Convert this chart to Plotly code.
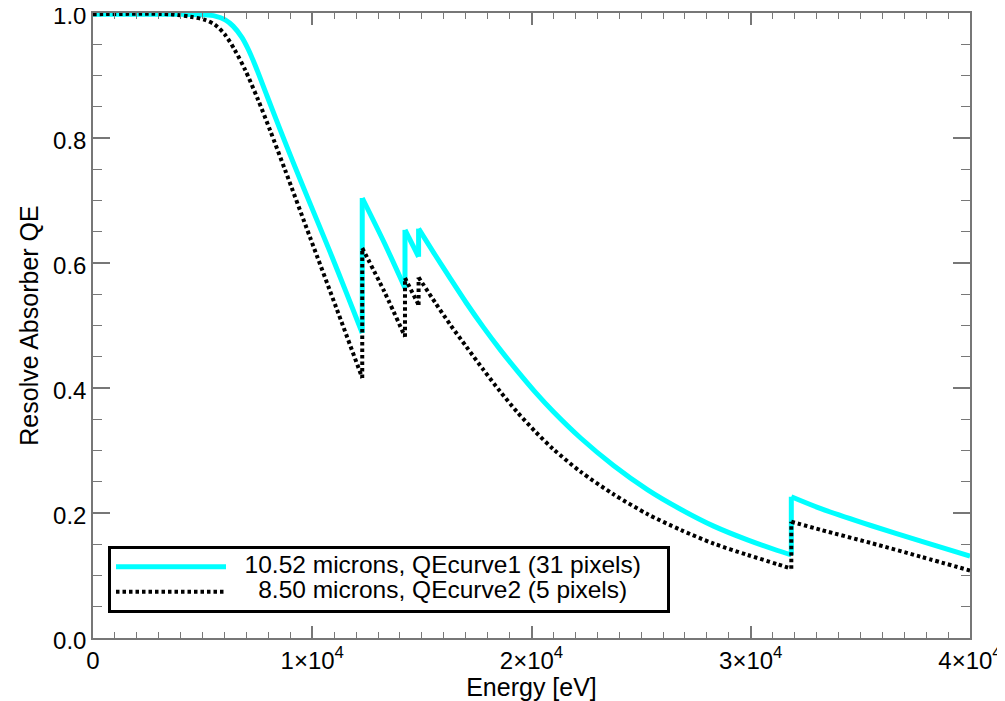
import plotly.graph_objects as go

# Cyan curve: 10.52 microns, QEcurve1  (energy in eV; a repeated energy = absorption edge)
energy_cyan = [0, 4000, 5100, 5570, 6030, 6390, 6790, 7080, 7400, 7930,
               8540, 9130, 9760, 10820, 11550, 12280, 12280, 13290, 14230, 14230,
               14850, 14850, 15620, 16300, 17030, 17810, 18580, 19360, 20180, 21000,
               22240, 23740, 25300, 26800, 28310, 29850, 31220, 31850, 31850, 33200,
               35480, 37760, 40000]
qe_cyan = [0.998, 0.998, 0.997, 0.995, 0.989, 0.979, 0.961, 0.942, 0.916, 0.868,
           0.813, 0.761, 0.707, 0.617, 0.553, 0.488, 0.704, 0.632, 0.560, 0.653,
           0.610, 0.655, 0.612, 0.575, 0.536, 0.497, 0.461, 0.427, 0.393, 0.362,
           0.320, 0.276, 0.237, 0.206, 0.179, 0.157, 0.140, 0.133, 0.226, 0.207,
           0.180, 0.155, 0.131]

# Black dotted curve: 8.50 microns, QEcurve2
energy_black = [0, 3500, 4430, 5110, 5570, 6030, 6480, 6940, 7530, 8080,
                8770, 9910, 11100, 12280, 12280, 13290, 14230, 14230, 14850, 14850,
                15620, 16300, 17030, 17810, 18580, 19360, 20180, 21000, 22240, 23740,
                25300, 26800, 28310, 29850, 31220, 31850, 31850, 33200, 35480, 37760,
                40000]
qe_black = [0.998, 0.998, 0.994, 0.989, 0.981, 0.965, 0.940, 0.909, 0.861, 0.812,
            0.748, 0.640, 0.528, 0.416, 0.624, 0.554, 0.482, 0.576, 0.533, 0.577,
            0.536, 0.501, 0.466, 0.429, 0.394, 0.361, 0.330, 0.302, 0.266, 0.230,
            0.198, 0.173, 0.151, 0.133, 0.118, 0.111, 0.186, 0.173, 0.152, 0.130,
            0.108]

x_tickvals = [0, 10000, 20000, 30000, 40000]
x_ticktext = ["0", "1×10<sup>4</sup>", "2×10<sup>4</sup>", "3×10<sup>4</sup>", "4×10<sup>4</sup>"]
y_tickvals = [0.0, 0.2, 0.4, 0.6, 0.8, 1.0]
y_ticktext = ["0.0", "0.2", "0.4", "0.6", "0.8", "1.0"]

NB = "\u00a0"
SPAN = '<span style="font-size:24.5px">'
label_cyan = SPAN + NB * 2 + "10.52 microns, QEcurve1 (31 pixels)" + NB * 3 + "</span>"
label_black = SPAN + NB * 4 + "8.50 microns, QEcurve2 (5 pixels)" + "</span>"


def split_at_edges(xs, ys):
    """Split a curve into smooth pieces at repeated x values (vertical edges)."""
    pieces, jumps = [], []
    start = 0
    for i in range(1, len(xs)):
        if xs[i] == xs[i - 1]:
            pieces.append((xs[start:i], ys[start:i]))
            jumps.append(([xs[i - 1], xs[i]], [ys[i - 1], ys[i]]))
            start = i
    pieces.append((xs[start:], ys[start:]))
    return pieces, jumps


fig = go.Figure()


def add_curve(xs, ys, name, line):
    pieces, jumps = split_at_edges(xs, ys)
    first = True
    for px, py in pieces:
        fig.add_trace(go.Scatter(x=px, y=py, mode="lines", name=name, legendgroup=name,
                                 showlegend=first, line=dict(shape="spline", smoothing=0.8, **line)))
        first = False
    for jx, jy in jumps:
        fig.add_trace(go.Scatter(x=jx, y=jy, mode="lines", name=name, legendgroup=name,
                                 showlegend=False, line=dict(**line)))


add_curve(energy_cyan, qe_cyan, label_cyan, dict(color="#00FFFF", width=5))
add_curve(energy_black, qe_black, label_black, dict(color="black", width=4, dash="3.5px,3px"))

axis_col = "#777777"
# page body has an 8px margin, so the figure is sized/margined to put the plot frame
# at x 93..970, y 13..638 in the 1005x701 window
fig.update_layout(
    width=997, height=693,
    margin=dict(l=85, r=35, t=5, b=63),
    plot_bgcolor="white", paper_bgcolor="white",
    font=dict(family="Liberation Sans, Arial, sans-serif", size=24, color="black"),
    showlegend=True,
    legend=dict(x=0.0171, y=0.147, xanchor="left", yanchor="top",
                bordercolor="black", borderwidth=3, bgcolor="white",
                itemwidth=110, font=dict(size=17), tracegroupgap=0),
)
fig.update_xaxes(
    range=[0, 40000], tickvals=x_tickvals, ticktext=x_ticktext, automargin=False,
    ticklabeloverflow="allow",
    ticks="inside", ticklen=12, tickwidth=1.5, tickcolor=axis_col,
    showline=True, linecolor=axis_col, linewidth=1.5, mirror="allticks",
    showgrid=False, zeroline=False,
    minor=dict(dtick=1000, ticklen=6, ticks="inside", tickcolor=axis_col, tickwidth=1.2, showgrid=False),
    title=dict(text="Energy [eV]", standoff=6, font=dict(size=25)),
)
fig.update_yaxes(
    range=[0, 1.0], tickvals=y_tickvals, ticktext=y_ticktext, automargin=False,
    ticklabeloverflow="allow", ticklabelshift=3,
    ticks="inside", ticklen=17, tickwidth=1.5, tickcolor=axis_col,
    showline=True, linecolor=axis_col, linewidth=1.5, mirror="allticks",
    showgrid=False, zeroline=False,
    minor=dict(dtick=0.05, ticklen=9, ticks="inside", tickcolor=axis_col, tickwidth=1.2, showgrid=False),
    title=dict(text="Resolve Absorber QE", standoff=7, font=dict(size=25)),
)

fig.write_html("out.html")
